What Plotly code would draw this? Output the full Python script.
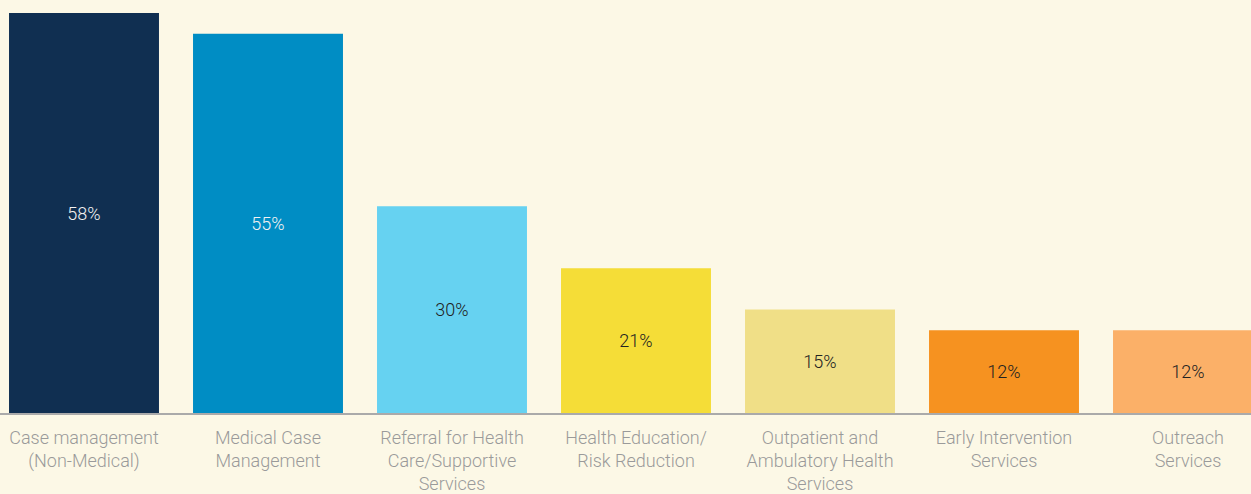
import plotly.graph_objects as go

categories = [
    "Case management<br>(Non-Medical)",
    "Medical Case<br>Management",
    "Referral for Health<br>Care/Supportive<br>Services",
    "Health Education/<br>Risk Reduction",
    "Outpatient and<br>Ambulatory Health<br>Services",
    "Early Intervention<br>Services",
    "Outreach<br>Services",
]
values = [58, 55, 30, 21, 15, 12, 12]
bar_colors = ["#102F51", "#008DC4", "#66D2F1", "#F5DD37", "#F0DF87", "#F69220", "#FBB068"]
text_colors = ["#F2F2F2", "#F2F2F2", "#222222", "#222222", "#222222", "#222222", "#222222"]

positions = list(range(len(categories)))

fig = go.Figure(
    go.Bar(
        x=positions,
        y=values,
        width=0.815,
        marker=dict(color=bar_colors, line=dict(width=0)),
        text=[f"{v}%" for v in values],
        textposition="inside",
        insidetextanchor="middle",
        textangle=0,
        constraintext="none",
        textfont=dict(family="Roboto", size=18, weight=300, color=text_colors),
        hoverinfo="skip",
    )
)

fig.update_layout(
    width=1251,
    height=494,
    margin=dict(l=0, r=0, t=0, b=81),
    paper_bgcolor="#FCF8E6",
    plot_bgcolor="#FCF8E6",
    showlegend=False,
    xaxis=dict(
        range=[-0.4565, 6.3424],
        tickvals=positions,
        ticktext=categories,
        tickfont=dict(family="Roboto", size=18, weight=300, color="#9A9A9A"),
        showgrid=False,
        zeroline=False,
        showline=True,
        linecolor="#AAAAAA",
        linewidth=2,
        ticks="outside",
        ticklen=7,
        tickcolor="rgba(0,0,0,0)",
        fixedrange=True,
    ),
    yaxis=dict(
        range=[0, 59.9],
        visible=False,
        showgrid=False,
        zeroline=False,
        fixedrange=True,
    ),
)

fig.write_html("out.html")
